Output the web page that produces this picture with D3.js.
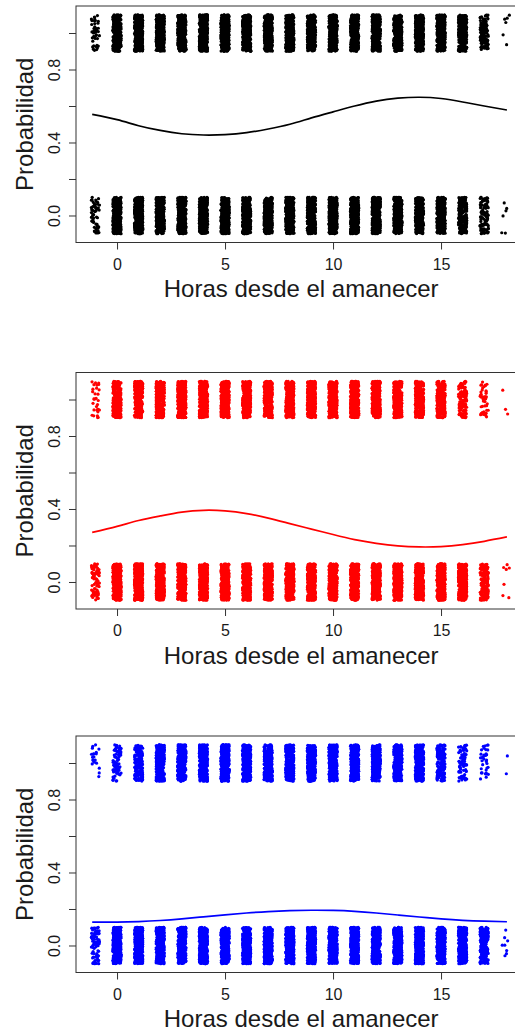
<!DOCTYPE html>
<html>
<head>
<meta charset="utf-8">
<script src="https://cdn.jsdelivr.net/npm/d3@7"></script>
<style>
body { margin: 0; background: #fff; }
text { font-family: "Liberation Sans", Arial, sans-serif; fill: #1a1a1a; }
</style>
</head>
<body>
<div id="chart"></div>
<script>
//=========================== data ================================//

// hours since sunrise, one column of observations each
var hours = [-1, 0, 1, 2, 3, 4, 5, 6, 7, 8, 9, 10, 11, 12, 13, 14, 15, 16, 17, 18];

// number of observations per hour with outcome 1 (top band) and 0 (bottom band)
//                 -1    0    1    2    3    4    5    6    7    8    9   10   11   12   13   14   15   16   17  18
var blackOnes  = [ 45, 330, 380, 380, 380, 380, 380, 380, 380, 380, 380, 380, 380, 380, 380, 380, 380, 330, 130,  6];
var blackZeros = [ 55, 360, 380, 380, 380, 380, 380, 380, 380, 380, 380, 380, 380, 380, 380, 380, 380, 240,  90,  6];
var redOnes    = [ 30, 280, 240, 360, 360, 360, 360, 360, 360, 360, 360, 360, 360, 360, 360, 330, 280, 120,  45,  3];
var redZeros   = [ 75, 360, 380, 380, 380, 380, 380, 380, 380, 380, 380, 380, 380, 380, 380, 380, 380, 380, 170,  7];
var blueOnes   = [ 20,  80, 160, 300, 360, 360, 360, 360, 360, 360, 360, 360, 360, 360, 340, 330, 160,  75,  35,  2];
var blueZeros  = [ 90, 380, 380, 380, 380, 380, 380, 380, 380, 380, 380, 380, 380, 380, 380, 380, 380, 380, 220,  8];

// fitted probability curve
var curveHours = [-1.15, 0, 1, 2, 3, 4, 5, 6, 7, 8, 9, 10, 11, 12, 13, 14, 15, 16, 17, 18.05];
var blackCurve = [0.554, 0.525, 0.492, 0.466, 0.448, 0.441, 0.443, 0.454, 0.474, 0.500, 0.535, 0.568, 0.600, 0.627, 0.643, 0.648, 0.641, 0.622, 0.600, 0.578];
var redCurve   = [0.272, 0.305, 0.337, 0.362, 0.383, 0.393, 0.390, 0.375, 0.350, 0.320, 0.290, 0.260, 0.232, 0.212, 0.198, 0.192, 0.194, 0.205, 0.223, 0.247];
var blueCurve  = [0.128, 0.128, 0.131, 0.137, 0.146, 0.157, 0.168, 0.178, 0.186, 0.191, 0.193, 0.192, 0.187, 0.178, 0.167, 0.156, 0.146, 0.138, 0.133, 0.130];

// axis ticks
var xTicks = [0, 5, 10, 15];
var yTicks = [0, 0.2, 0.4, 0.6, 0.8, 1.0];
var yTickLabels = ["0.0", "", "0.4", "", "0.8", ""];

var xLabel = "Horas desde el amanecer";
var yLabel = "Probabilidad";

//=========================== graphics ================================//

var width = 515, height = 1034;
var plotLeft = 76, plotHeight = 236.5;

var svg = d3.select("#chart").append("svg")
	.attr("width", width)
	.attr("height", height);

// small seeded generator so the jitter is the same on every run
function makeRandom(seed) {
	return function() {
		seed |= 0; seed = seed + 0x6D2B79F5 | 0;
		var t = Math.imul(seed ^ seed >>> 15, 1 | seed);
		t = t + Math.imul(t ^ t >>> 7, 61 | t) ^ t;
		return ((t ^ t >>> 14) >>> 0) / 4294967296;
	};
}

// one observation per count, jittered like R's jitter()
function jitterPoints(counts, outcome, rand) {
	var pts = [];
	counts.forEach(function(n, i) {
		for (var k = 0; k < n; k++) {
			pts.push({
				x: hours[i] + (rand() * 2 - 1) * 0.19,
				y: outcome + (rand() * 2 - 1) * 0.1
			});
		}
	});
	return pts;
}

function drawPanel(top, ones, zeros, curve, color, seed) {
	var x = d3.scaleLinear()
		.domain([-1.9, 18.95])
		.range([plotLeft, plotLeft + 20.85 * 21.6]);

	var y = d3.scaleLinear()
		.domain([-0.148, 1.148])
		.range([top + plotHeight, top]);

	var bottom = top + plotHeight;
	var g = svg.append("g");

	var rand = makeRandom(seed);
	var pts = jitterPoints(ones, 1, rand).concat(jitterPoints(zeros, 0, rand));

	g.append("g").selectAll("circle")
		.data(pts)
		.join("circle")
		.attr("cx", function(d) { return x(d.x); })
		.attr("cy", function(d) { return y(d.y); })
		.attr("r", 1.6)
		.attr("fill", color);

	// fitted curve
	var line = d3.line()
		.x(function(d, i) { return x(curveHours[i]); })
		.y(function(d) { return y(d); })
		.curve(d3.curveNatural);

	g.append("path")
		.datum(curve)
		.attr("d", line)
		.attr("fill", "none")
		.attr("stroke", color)
		.attr("stroke-width", 1.7);

	// box around plot region
	g.append("rect")
		.attr("x", x.range()[0])
		.attr("y", top)
		.attr("width", x.range()[1] - x.range()[0])
		.attr("height", plotHeight)
		.attr("fill", "none")
		.attr("stroke", "#333")
		.attr("stroke-width", 1);

	// x axis
	var xAxis = g.append("g")
		.attr("transform", "translate(0," + bottom + ")")
		.call(d3.axisBottom(x).tickValues(xTicks).tickSize(7).tickSizeOuter(0));
	xAxis.select(".domain").remove();
	xAxis.selectAll("line").attr("stroke", "#333");
	xAxis.selectAll("text")
		.attr("dy", null)
		.attr("y", 27)
		.style("font-size", "16px")
		.style("font-family", "'Liberation Sans', Arial, sans-serif")
		.attr("fill", "#1a1a1a");

	// y axis, labels parallel to the axis as in R
	var yAxis = g.append("g")
		.attr("transform", "translate(" + plotLeft + ",0)")
		.call(d3.axisLeft(y).tickValues(yTicks).tickSize(7).tickSizeOuter(0)
			.tickFormat(function(d, i) { return yTickLabels[i]; }));
	yAxis.select(".domain").remove();
	yAxis.selectAll("line").attr("stroke", "#333");
	yAxis.selectAll("text")
		.attr("x", null)
		.attr("dy", null)
		.attr("text-anchor", "middle")
		.attr("transform", "translate(-16,0) rotate(-90)")
		.style("font-size", "16px")
		.style("font-family", "'Liberation Sans', Arial, sans-serif")
		.attr("fill", "#1a1a1a");

	// axis titles
	g.append("text")
		.attr("x", (x.range()[0] + x.range()[1]) / 2)
		.attr("y", bottom + 54.7)
		.attr("text-anchor", "middle")
		.style("font-size", "24px")
		.text(xLabel);

	g.append("text")
		.attr("transform", "translate(33," + (top + plotHeight / 2) + ") rotate(-90)")
		.attr("text-anchor", "middle")
		.style("font-size", "24px")
		.text(yLabel);
}

drawPanel(6, blackOnes, blackZeros, blackCurve, "#000000", 11);
drawPanel(372.5, redOnes, redZeros, redCurve, "#ff0000", 23);
drawPanel(736, blueOnes, blueZeros, blueCurve, "#0000ff", 37);
</script>
</body>
</html>
